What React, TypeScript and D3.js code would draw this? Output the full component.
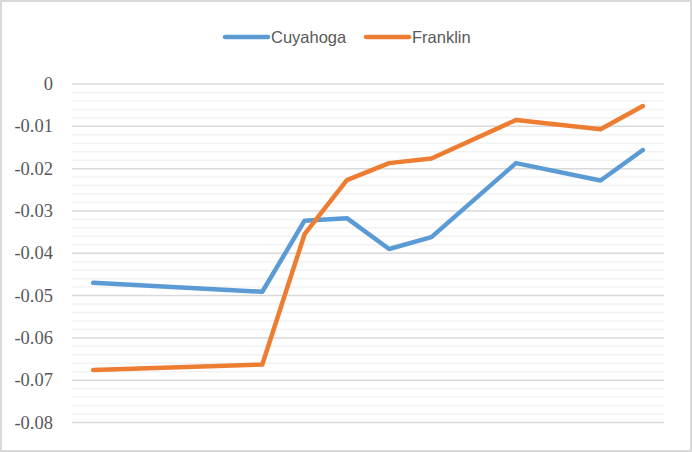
import React from "react";
import * as d3 from "d3";

const slots = [0, 4, 5, 6, 7, 8, 10, 12, 13];
const cuyahoga = [-0.047, -0.0491, -0.0323, -0.0317, -0.039, -0.0362, -0.0187, -0.0228, -0.0156];
const franklin = [-0.0676, -0.0663, -0.0355, -0.0227, -0.0187, -0.0176, -0.0085, -0.0107, -0.0052];
const yTicks = [0, -0.01, -0.02, -0.03, -0.04, -0.05, -0.06, -0.07, -0.08];
const seriesNames = ["Cuyahoga", "Franklin"];
const colors = ["#5B9BD5", "#ED7D31"];

export default function App() {
  const W = 692, H = 452;
  const left = 72, right = 664, top = 84, bottom = 422.5;
  const x = d3.scaleLinear().domain([-0.5, 13.5]).range([left, right]);
  const y = d3.scaleLinear().domain([0, -0.08]).range([top, bottom]);
  const minor = d3.range(0, 41).map((i) => -i * 0.002).filter((_, i) => i % 5 !== 0);
  const line = d3
    .line<[number, number]>()
    .x((d) => x(d[0]))
    .y((d) => y(d[1]));
  const series = [cuyahoga, franklin];
  const legendItems = [
    { x1: 225, x2: 268, tx: 271 },
    { x1: 366, x2: 409, tx: 412 },
  ];
  return (
    <svg width={W} height={H} style={{ position: "absolute", left: 0, top: 0, background: "#fff" }}>
      <rect x={1} y={1} width={W - 2} height={H - 2} fill="#fff" stroke="#d9d9d9" strokeWidth={2} />
      {minor.map((v, i) => (
        <line key={"m" + i} x1={left} x2={right} y1={y(v)} y2={y(v)} stroke="#f2f2f2" strokeWidth={1.5} />
      ))}
      {yTicks.map((v, i) => (
        <line key={"g" + i} x1={left} x2={right} y1={y(v)} y2={y(v)} stroke="#d9d9d9" strokeWidth={1.5} />
      ))}
      {yTicks.map((v, i) => (
        <text
          key={"t" + i}
          x={53}
          y={y(v)}
          dy="0.33em"
          textAnchor="end"
          style={{ fontFamily: "'Liberation Serif', 'Times New Roman', serif", fontSize: "18.5px" }}
          fill="#595959"
        >
          {v === 0 ? "0" : d3.format(".2f")(v).replace("−", "-")}
        </text>
      ))}
      {series.map((s, k) => (
        <path
          key={"s" + k}
          d={line(slots.map((c, i) => [c, s[i]] as [number, number])) || ""}
          fill="none"
          stroke={colors[k]}
          strokeWidth={4.5}
          strokeLinecap="round"
          strokeLinejoin="round"
        />
      ))}
      {legendItems.map((l, k) => (
        <g key={"l" + k}>
          <line x1={l.x1} x2={l.x2} y1={37} y2={37} stroke={colors[k]} strokeWidth={4.5} strokeLinecap="round" />
          <text
            x={l.tx}
            y={37}
            dy="0.35em"
            style={{ fontFamily: "'Liberation Sans', Arial, sans-serif", fontSize: "16.5px" }}
            fill="#595959"
          >
            {seriesNames[k]}
          </text>
        </g>
      ))}
    </svg>
  );
}
